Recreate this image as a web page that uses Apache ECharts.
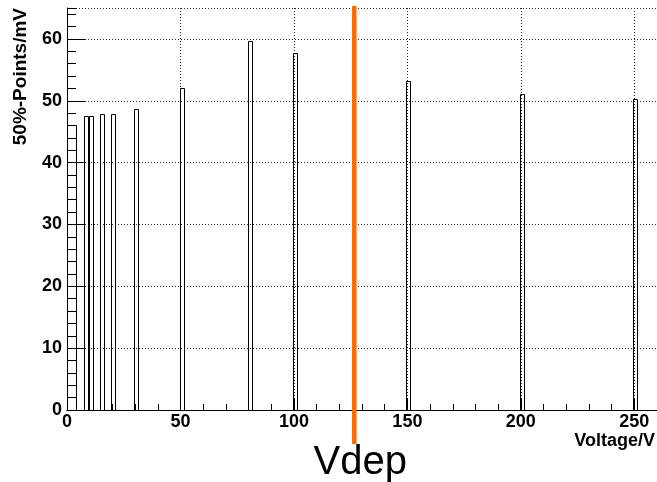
<!DOCTYPE html>
<html><head><meta charset="utf-8">
<script src="https://cdn.jsdelivr.net/npm/echarts@6/dist/echarts.min.js"></script>
<style>html,body{margin:0;padding:0;background:#fff}#c{width:657px;height:482px}</style>
</head><body><div id="c"></div>
<script>
// Histogram bins: lower edge (V), bin width (V), value (mV)
const binLowEdges = [0, 7.6, 9.6, 14.6, 19.6, 29.6, 49.6, 79.6, 99.6, 149.6, 199.6, 249.6];
const binWidths   = [4, 1.6, 1.6, 1.6, 1.6, 1.6, 1.7, 1.6, 1.7, 1.6, 1.6, 1.6];
const pointValues = [46.1, 47.5, 47.5, 47.8, 47.8, 48.7, 52.1, 59.7, 57.8, 53.2, 51.1, 50.3];
const vdepVoltage = 126.6;
const vdepLabel = 'Vdep';
const xTitle = 'Voltage/V';
const yTitle = '50%-Points/mV';
const xRange = [0, 260];
const yRange = [0, 65];

const FONT = '"Liberation Sans", Arial, Helvetica, sans-serif';
const chart = echarts.init(document.getElementById('c'), null, {renderer: 'canvas'});

const barData = binLowEdges.map((lo, i) => [lo, binWidths[i], pointValues[i]]);

const tickLabelStyle = {fontFamily: FONT, fontWeight: 'bold', fontSize: 18, color: '#000'};
const gridLine = {show: true, lineStyle: {color: '#222', width: 1, type: [1, 2]}};

chart.setOption({
  animation: false,
  backgroundColor: '#fff',
  grid: {left: 67, right: 0, top: 8, bottom: 72},
  xAxis: [{
    type: 'value', min: xRange[0], max: xRange[1], interval: 50,
    axisLine: {show: true, lineStyle: {color: '#000', width: 1}},
    axisTick: {show: true, inside: true, length: 12, lineStyle: {color: '#000'}},
    minorTick: {show: true, splitNumber: 5, length: 6, lineStyle: {color: '#000'}},
    axisLabel: Object.assign({margin: 3, showMaxLabel: false,
      formatter: v => (v % 50 === 0 ? String(v) : '')}, tickLabelStyle),
    splitLine: gridLine
  }, {
    type: 'value', position: 'top', min: xRange[0], max: xRange[1],
    axisLine: {show: true, lineStyle: {color: '#000', width: 1}},
    axisTick: {show: false}, axisLabel: {show: false}, splitLine: {show: false}
  }],
  yAxis: [{
    type: 'value', min: yRange[0], max: yRange[1], interval: 10,
    axisLine: {show: true, lineStyle: {color: '#000', width: 1}},
    axisTick: {show: true, inside: true, length: 18, lineStyle: {color: '#000'}},
    axisLabel: Object.assign({margin: 5, showMaxLabel: false,
      formatter: v => (v % 10 === 0 ? String(v) : '')}, tickLabelStyle),
    splitLine: gridLine
  }, {
    type: 'value', position: 'left', min: yRange[0], max: yRange[1], interval: 2,
    axisLine: {show: false},
    axisTick: {show: true, inside: true, length: 9, lineStyle: {color: '#000'}},
    axisLabel: {show: false}, splitLine: {show: false}
  }],
  series: [{
    type: 'custom',
    xAxisIndex: 0, yAxisIndex: 0,
    data: barData,
    encode: {x: 0, y: 2},
    z: 3,
    renderItem: function (params, api) {
      const lo = api.value(0), w = api.value(1), v = api.value(2);
      const p0 = api.coord([lo, 0]);
      const p1 = api.coord([lo + w, v]);
      const x = Math.round(p0[0]) + 0.5;
      const y = Math.round(p1[1]) + 0.5;
      const wd = Math.max(2, Math.round(p1[0] - p0[0]));
      const h = Math.round(p0[1]) - Math.round(p1[1]);
      return {type: 'rect', shape: {x: x, y: y, width: wd, height: h},
        style: {fill: 'none', stroke: '#000', lineWidth: 1}};
    }
  }, {
    type: 'custom',
    xAxisIndex: 0, yAxisIndex: 0,
    data: [[vdepVoltage, 0]],
    encode: {x: 0, y: 1},
    clip: false,
    z: 5,
    renderItem: function (params, api) {
      const base = api.coord([api.value(0), yRange[0]]);
      const top = api.coord([api.value(0), yRange[1]]);
      const x = base[0];
      return {type: 'group', children: [
        {type: 'line', shape: {x1: x, y1: top[1] - 2, x2: x, y2: base[1] + 34},
          style: {stroke: '#ff6a00', lineWidth: 4.5}},
        {type: 'text', x: x + 6, y: base[1] + 33,
          style: {text: vdepLabel, fontFamily: FONT, fontSize: 40, fill: '#000',
            align: 'center', verticalAlign: 'top'}}
      ]};
    }
  }],
  graphic: [
    {type: 'text', x: 655, y: 432,
      style: {text: xTitle, fontFamily: FONT, fontWeight: 'bold', fontSize: 18,
        fill: '#000', align: 'right', verticalAlign: 'top'}},
    {type: 'text', x: 21, y: 8, rotation: Math.PI / 2,
      style: {text: yTitle, fontFamily: FONT, fontWeight: 'bold', fontSize: 19,
        fill: '#000', align: 'right', verticalAlign: 'middle'}}
  ]
});
</script>
</body></html>
